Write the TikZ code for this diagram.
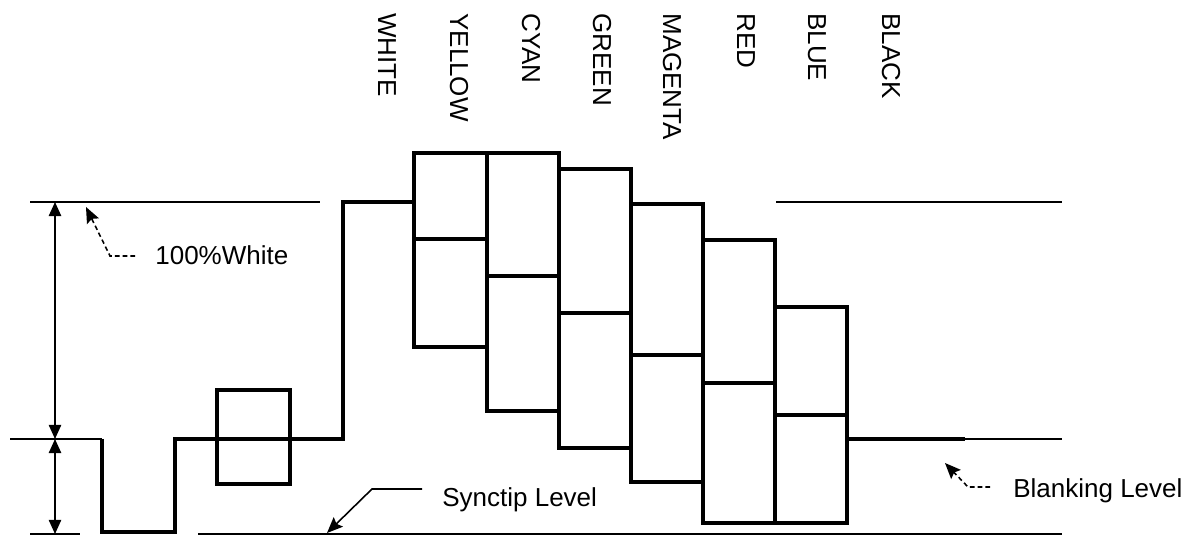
\documentclass[tikz,border=0pt]{standalone}
\usepackage{fontspec}
\setmainfont{Liberation Sans}
\usetikzlibrary{arrows.meta}
\begin{document}
\begin{tikzpicture}
  [x=0.02cm,y=-0.02cm,
  font=\fontsize{14.8}{17}\selectfont,
  level/.style={line width=1.1pt},
  signal/.style={line width=2.5pt},
  dim/.style={line width=0.9pt,{Triangle[length=8pt,width=7pt]}-{Triangle[length=8pt,width=7pt]}},
  leader/.style={line width=0.9pt,-{Stealth[length=9pt,width=7.5pt,inset=1.5pt]}},
  note/.style={leader,dash pattern=on 2.6pt off 1.8pt},
  lbl/.style={inner sep=0pt,anchor=base west},
  bar/.style={inner sep=0pt,anchor=base west,rotate=-90}]

  \useasboundingbox (0,0) rectangle (1194,536);

  % reference levels
  \draw [level] (30,202) -- (320,202);
  \draw [level] (776,202) -- (1062,202);
  \draw [level] (10,439) -- (102,439);
  \draw [level] (965,439) -- (1062,439);
  \draw [level] (30,534) -- (80,534);
  \draw [level] (198,534) -- (1062,534);

  % sync, burst and white step
  \draw [signal] (102,439) -- (102,532) -- (175,532) -- (175,439) -- (343,439)
        -- (343,202) -- (414,202);
  \draw [signal] (217,390) rectangle (290,484);

  % colour bars
  \foreach \l/\r/\t/\m/\b in {414/487/153/239/347, 487/559/153/276/411,
      559/631/169/313/448, 631/703/204/355/482, 703/775/240/383/523,
      775/847/307/415/523}
  {
    \draw [signal] (\l,\t) rectangle (\r,\b);
    \draw [signal] (\l,\m) -- (\r,\m);
  }
  \draw [signal] (847,439) -- (965,439);

  % bar names
  \foreach \x/\name in {378/WHITE, 450/YELLOW, 522/CYAN, 593/GREEN,
      663/MAGENTA, 737/RED, 808/BLUE, 882/BLACK}
    \node (\name) [bar] at (\x,13) {\name};

  % amplitude arrows
  \coordinate (top) at (55,202);
  \coordinate (blank) at (55,439);
  \coordinate (sync) at (55,534);
  \draw [dim] (blank) -- (top);
  \draw [dim] (sync) -- (blank);

  % annotations
  \node (white) [lbl] at (155,265) {100\%White};
  \coordinate (wa) at (135,256);
  \coordinate (wb) at (110,256);
  \coordinate (wc) at (86,207);
  \draw [note] (wa) -- (wb) -- (wc);

  \node (synctip) [lbl] at (442,507) {Synctip Level};
  \coordinate (sa) at (422,489);
  \coordinate (sb) at (372,489);
  \coordinate (sc) at (327,533);
  \draw [leader] (sa) -- (sb) -- (sc);

  \node (blanking) [lbl] at (1013,498) {Blanking Level};
  \coordinate (ba) at (990,487);
  \coordinate (bb) at (968,487);
  \coordinate (bc) at (945,463);
  \draw [note] (ba) -- (bb) -- (bc);

\end{tikzpicture}
\end{document}
